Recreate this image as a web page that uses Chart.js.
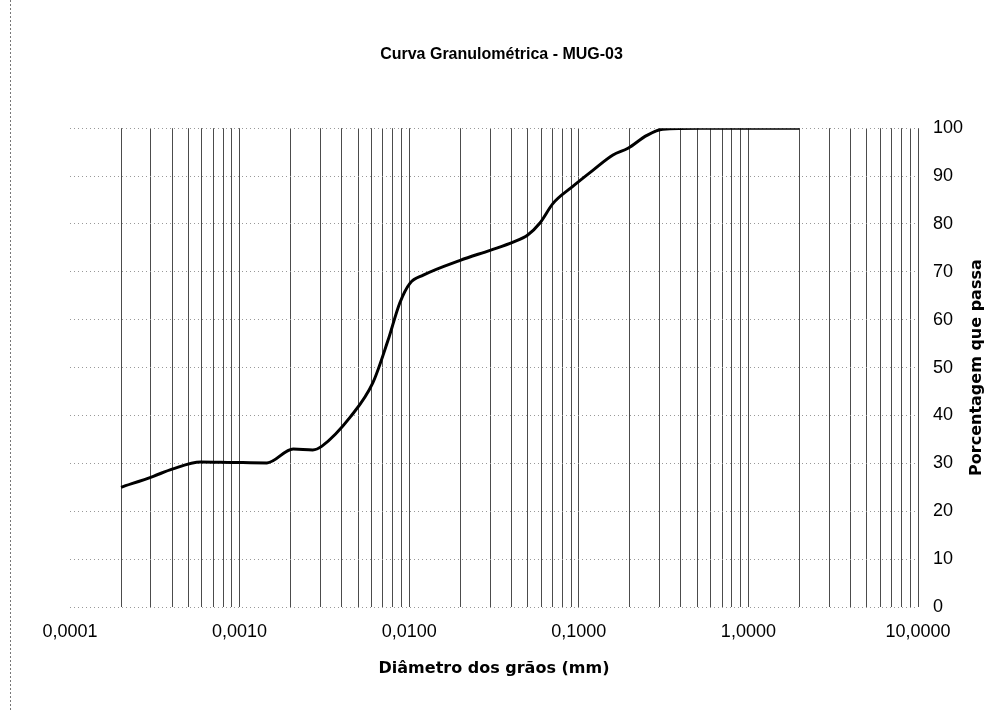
<!DOCTYPE html>
<html>
<head>
<meta charset="utf-8">
<script src="https://cdn.jsdelivr.net/npm/chart.js@4.4.1/dist/chart.umd.min.js"></script>
<style>
    html, body { margin: 0; padding: 0; background: #fff; }
    #wrap { width: 1003px; height: 711px; position: relative; }
</style>
</head>
<body>
<div id="wrap"><canvas id="curva-chart" width="1003" height="711"></canvas></div>
<script>
// diametro dos graos (mm) e porcentagem que passa
const diametros = [0.0002, 0.00031, 0.0004, 0.00059, 0.0009, 0.00145, 0.00207, 0.0027, 0.00306, 0.0045, 0.0061, 0.0075, 0.0088, 0.0101, 0.0121, 0.02, 0.03, 0.041, 0.05, 0.059, 0.0705, 0.091, 0.121, 0.159, 0.195, 0.252, 0.313, 0.52, 2.0];
const passantes = [25.0, 27.3, 28.8, 30.3, 30.2, 30.1, 33.0, 32.8, 33.6, 39.7, 46.8, 55.7, 63.5, 67.6, 69.3, 72.4, 74.5, 76.2, 77.7, 80.2, 84.3, 87.7, 91.2, 94.4, 95.8, 98.5, 99.8, 100, 100];
const decadas = [0.0001, 0.001, 0.01, 0.1, 1, 10];
const tituloGrafico = 'Curva Granulométrica - MUG-03';
const tituloX = 'Diâmetro dos grãos (mm)';
const tituloY = 'Porcentagem que passa';

function formatDecimal(value) {
    return value.toFixed(4).replace('.', ',');
}

function isDecada(value) {
    return decadas.some(d => Math.abs(d - value) / d < 1e-6);
}

// linhas de grade em 1..9 x 10^k, como no Excel
function buildLogTicks() {
    const ticks = [];
    for (let k = 0; k < decadas.length - 1; k++) {
        for (let m = 1; m <= 9; m++) {
            ticks.push({ value: Number((m * decadas[k]).toPrecision(6)) });
        }
    }
    ticks.push({ value: decadas[decadas.length - 1] });
    return ticks;
}

const extrasPlugin = {
    id: 'extras',
    afterDraw(chart) {
        const { ctx, chartArea } = chart;
        ctx.save();
        // titulo do eixo Y (lado direito, lendo de baixo para cima)
        ctx.translate(977, (chartArea.top + chartArea.bottom) / 2);
        ctx.rotate(-Math.PI / 2);
        ctx.fillStyle = '#000';
        ctx.font = 'bold 16px "DejaVu Sans"';
        ctx.textAlign = 'center';
        ctx.textBaseline = 'middle';
        ctx.fillText(tituloY, 0, 0);
        ctx.restore();
        // borda esquerda pontilhada da moldura
        ctx.save();
        ctx.strokeStyle = '#777';
        ctx.setLineDash([2, 2]);
        ctx.beginPath();
        ctx.moveTo(10.5, 0);
        ctx.lineTo(10.5, 711);
        ctx.stroke();
        ctx.restore();
    }
};

const fonteNum = { family: '"Liberation Sans", Arial', size: 18 };

const ctx = document.getElementById('curva-chart').getContext('2d');
new Chart(ctx, {
    type: 'line',
    data: {
        datasets: [{
            data: diametros.map((d, i) => ({ x: d, y: passantes[i] })),
            borderColor: '#000',
            borderWidth: 3,
            pointRadius: 0,
            fill: false,
            cubicInterpolationMode: 'monotone'
        }]
    },
    options: {
        responsive: false,
        animation: false,
        layout: { padding: 0 },
        plugins: {
            legend: { display: false },
            tooltip: { enabled: false },
            title: {
                display: true,
                text: tituloGrafico,
                color: '#000',
                font: { family: '"Liberation Sans", Arial', size: 16, weight: 'bold', lineHeight: 1.2 },
                padding: { top: 45, bottom: 64 }
            }
        },
        scales: {
            x: {
                type: 'logarithmic',
                min: 0.0001,
                max: 10,
                afterBuildTicks: (scale) => { scale.ticks = buildLogTicks(); },
                afterFit: (scale) => { scale.height = 104; },
                border: { display: false },
                grid: {
                    drawTicks: false,
                    color: (c) => (c.tick && c.tick.value <= 0.0001 ? 'rgba(0,0,0,0)' : 'rgba(0,0,0,0.7)'),
                    lineWidth: 1
                },
                ticks: {
                    autoSkip: false,
                    maxRotation: 0,
                    padding: 14,
                    color: '#000',
                    font: fonteNum,
                    callback: (value) => (isDecada(value) ? formatDecimal(value) : '')
                },
                title: {
                    display: true,
                    text: tituloX,
                    color: '#000',
                    font: { family: '"DejaVu Sans"', size: 16, weight: 'bold' },
                    padding: { top: 10, bottom: 33 }
                }
            },
            y: {
                position: 'right',
                min: 0,
                max: 100,
                afterFit: (scale) => { scale.width = 85; },
                border: { display: false, dash: [1, 3] },
                grid: {
                    drawTicks: false,
                    color: '#999',
                    lineWidth: 1
                },
                ticks: {
                    stepSize: 10,
                    padding: 15,
                    crossAlign: 'near',
                    color: '#000',
                    font: fonteNum
                }
            },
            // eixo vazio a esquerda, so para reservar a margem
            yEsq: {
                position: 'left',
                min: 0,
                max: 100,
                afterFit: (scale) => { scale.width = 70; },
                border: { display: false },
                grid: { display: false },
                ticks: { display: false }
            }
        }
    },
    plugins: [extrasPlugin]
});
</script>
</body>
</html>
